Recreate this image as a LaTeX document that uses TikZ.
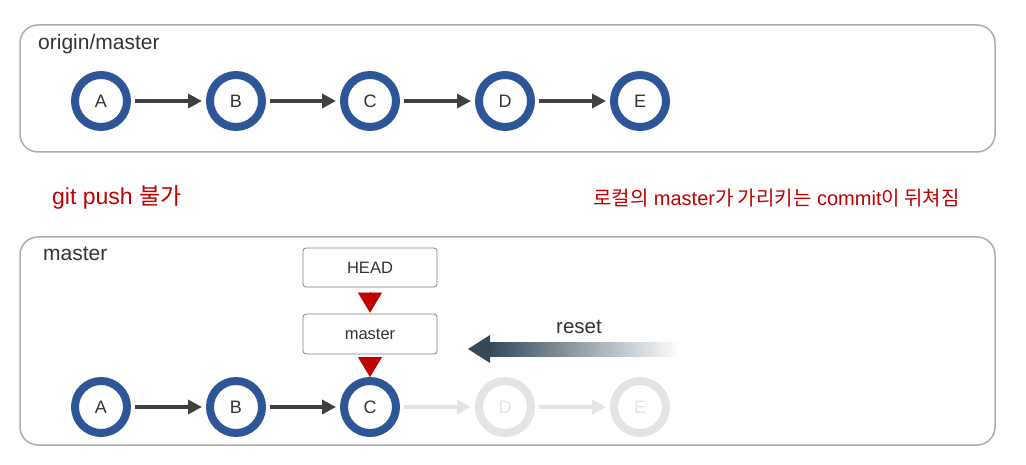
\documentclass[tikz,border=0pt]{standalone}
\usepackage{fontspec}
\setmainfont{Liberation Sans}
\newfontfamily\kr{Noto Sans CJK KR}
\usetikzlibrary{arrows.meta,calc}
\definecolor{ringblue}{HTML}{2E5597}
\definecolor{faded}{HTML}{E4E4E4}
\definecolor{darkarrow}{HTML}{404040}
\definecolor{panelgray}{HTML}{ACACAC}
\definecolor{boxgray}{HTML}{808080}
\definecolor{alertred}{HTML}{C00000}
\definecolor{resetdark}{HTML}{34495A}
\definecolor{txtgray}{HTML}{333333}
\tikzset{
  panel/.style={draw=panelgray, line width=1.5pt, rounded corners=18pt, minimum width=975pt, inner sep=0pt},
  commit/.style={circle, draw=ringblue, fill=white, line width=8pt, minimum size=52pt, inner sep=0pt, font=\fontsize{18}{20}\selectfont, text=txtgray},
  gone/.style={commit, draw=faded, text=faded},
  link/.style={draw=darkarrow, line width=4.5pt, shorten <=4pt, shorten >=4pt, -{Triangle[length=14pt,width=14pt]}},
  gonelink/.style={link, draw=faded},
  refbox/.style={draw=boxgray, line width=0.8pt, rounded corners=3pt, minimum width=134pt, inner sep=0pt, fill=white, font=\fontsize{16.5}{18}\selectfont, text=txtgray},
  pointer/.style={draw=alertred, fill=alertred, line width=0.1pt, -{Triangle[length=20pt,width=24pt]}},
  label/.style={anchor=base west, inner sep=0pt, font=\fontsize{21}{23}\selectfont, text=txtgray},
  alert/.style={anchor=base west, inner sep=0pt, text=alertred}
}
\begin{document}
\begin{tikzpicture}[x=1pt, y=-1pt]
\useasboundingbox (0,0) rectangle (1026,465);
% panels
\node[panel, minimum height=127pt] (toppanel) at (507.5,88.5) {};
\node[panel, minimum height=208pt] (botpanel) at (507.5,341) {};
\node[label] (toplabel) at (38,50) {origin/master};
\node[label] (botlabel) at (43,261) {master};
% top row
\node[commit] (a1) at (101,101) {A};
\node[commit] (b1) at (236,101) {B};
\node[commit] (c1) at (370,101) {C};
\node[commit] (d1) at (505,101) {D};
\node[commit] (e1) at (640,101) {E};
\draw[link] (a1) -- (b1);
\draw[link] (b1) -- (c1);
\draw[link] (c1) -- (d1);
\draw[link] (d1) -- (e1);
% messages
\node[alert, font=\fontsize{23}{26}\selectfont] (msg1) at (52,205) {git push {\kr 불가}};
\node[alert, font=\fontsize{20}{23}\selectfont] (msg2) at (593,206) {{\kr 로컬의} master{\kr 가 가리키는} commit{\kr 이 뒤쳐짐}};
% bottom row
\node[commit] (a2) at (101,407) {A};
\node[commit] (b2) at (236,407) {B};
\node[commit] (c2) at (370,407) {C};
\node[gone] (d2) at (505,407) {D};
\node[gone] (e2) at (640,407) {E};
\draw[link] (a2) -- (b2);
\draw[link] (b2) -- (c2);
\draw[gonelink] (c2) -- (d2);
\draw[gonelink] (d2) -- (e2);
% refs
\node[refbox, minimum height=39pt] (head) at (370,267.5) {HEAD};
\node[refbox, minimum height=40pt] (mbr) at (370,334) {master};
\draw[pointer, shorten <=5pt, shorten >=1pt] (head.south) -- (mbr.north);
\draw[pointer, shorten <=3pt, shorten >=0pt] (mbr.south) -- (c2.north);
% reset arrow
\coordinate (rtip) at (468,349);
\coordinate (rback) at (490,349);
\coordinate (rend) at (680,349);
\shade[left color=resetdark, right color=white] ($(rback)+(-1,-7)$) rectangle ($(rend)+(0,7)$);
\fill[resetdark] (rtip) -- ($(rback)+(0,-14)$) -- ($(rback)+(0,14)$) -- cycle;
\node[label, font=\fontsize{20.5}{22}\selectfont] (resetlbl) at (556,333) {reset};
\end{tikzpicture}
\end{document}
